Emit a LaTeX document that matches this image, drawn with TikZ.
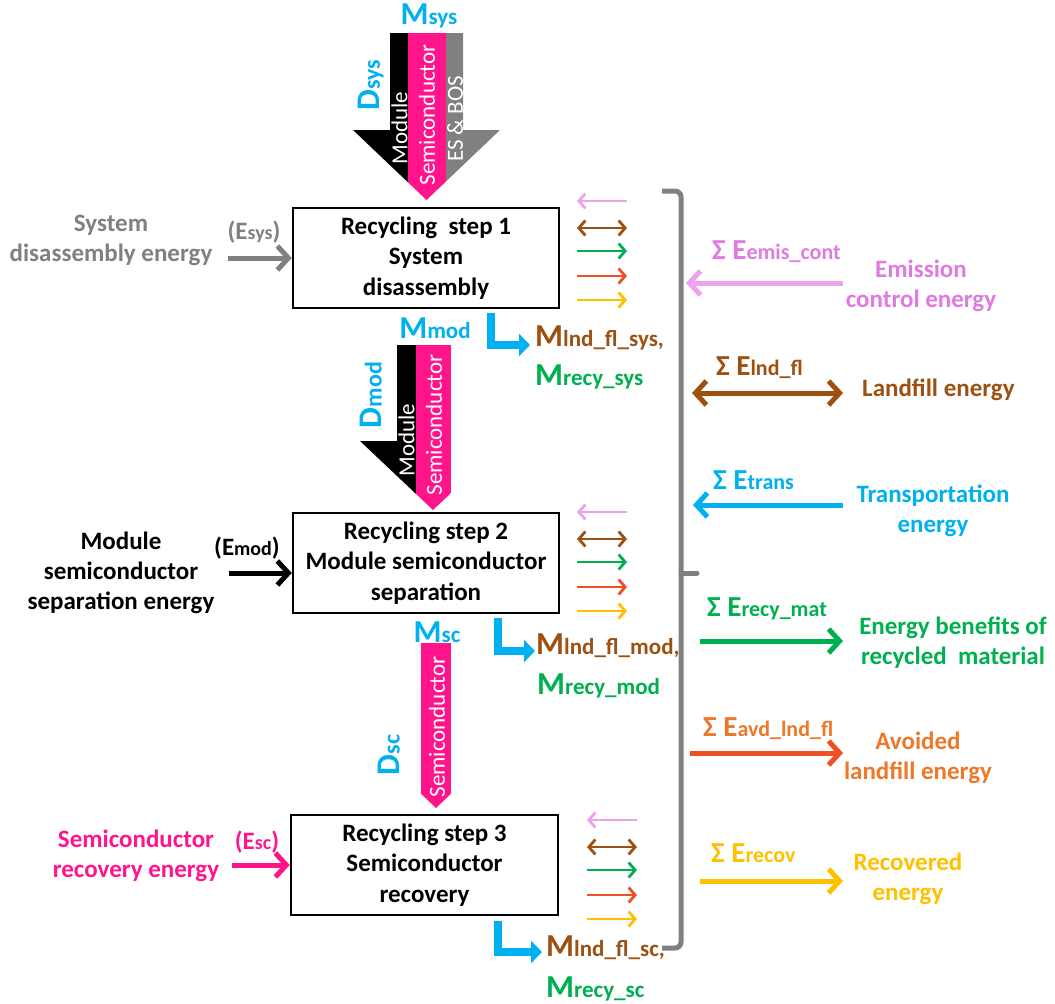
\documentclass[tikz,border=0pt]{standalone}
\usepackage{fontspec}
\setmainfont{Carlito}
\usetikzlibrary{arrows.meta}

\definecolor{sysgray}{RGB}{128,128,128}
\definecolor{semipink}{RGB}{255,20,140}
\definecolor{massblue}{RGB}{0,176,240}
\definecolor{emistext}{RGB}{224,122,224}
\definecolor{emisline}{RGB}{238,162,238}
\definecolor{lndbrown}{RGB}{156,80,18}
\definecolor{recygreen}{RGB}{0,176,80}
\definecolor{avdred}{RGB}{240,78,35}
\definecolor{avdorange}{RGB}{236,120,40}
\definecolor{recovgold}{RGB}{255,192,0}

\newcommand{\Mlab}[1]{{\fontsize{32}{34}\selectfont M}{\fontsize{23}{25}\selectfont #1}}
\newcommand{\Dlab}[1]{{\fontsize{33}{35}\selectfont D}{\fontsize{24}{26}\selectfont #1}}
\newcommand{\Elab}[1]{{\fontsize{29}{31}\selectfont Σ E}{\fontsize{22}{24}\selectfont #1}}
\newcommand{\Ein}[1]{{\fontsize{25}{27}\selectfont (E}{\fontsize{20}{22}\selectfont #1}{\fontsize{25}{27}\selectfont )}}

% five small output arrows next to a recycling step
\def\sidearrows(#1,#2)[#3]{%
	\path (#1,#2) coordinate (#3pa) ++(50,0) coordinate (#3pb);
	\path (#1,#2+27) coordinate (#3ba) ++(50,0) coordinate (#3bb);
	\path (#1,#2+50) coordinate (#3ga) ++(50,0) coordinate (#3gb);
	\path (#1,#2+75) coordinate (#3ra) ++(50,0) coordinate (#3rb);
	\path (#1,#2+99) coordinate (#3ya) ++(50,0) coordinate (#3yb);
	\draw[small, emisline, <-] (#3pa) -- (#3pb);
	\draw[small, lndbrown, <->] (#3ba) -- (#3bb);
	\draw[small, recygreen, ->] (#3ga) -- (#3gb);
	\draw[small, avdred, ->] (#3ra) -- (#3rb);
	\draw[small, recovgold, ->] (#3ya) -- (#3yb);
}

\tikzset{
	stepbox/.style={draw, line width=2.5pt, minimum width=266pt, minimum height=100pt, inner sep=0pt, align=center, font=\fontsize{25}{30.5}\selectfont\bfseries},
	sidetext/.style={align=center, inner sep=0pt, font=\fontsize{25}{30}\selectfont\bfseries},
	striptext/.style={rotate=90, white, inner sep=0pt, font=\fontsize{23}{24}\selectfont},
	small/.style={line width=2.8pt, >={Straight Barb[length=6.5pt,width=15pt]}},
	flow/.style={line width=5pt, >={Straight Barb[length=11pt,width=24pt]}},
	lout/.style={massblue, line width=8pt, -{Triangle[length=11pt,width=22pt]}},
}

\begin{document}
\begin{tikzpicture}[x=1pt, y=-1pt]
		%%%%% START %%%%%
		\useasboundingbox (0,0) rectangle (1055,1004);
		
		% material arrow into step 1
		\begin{scope}
			\clip (390,33) -- (463,33) -- (463,130) -- (500,130) -- (426.5,200) -- (353,130) -- (390,130) -- cycle;
			\fill[black] (350,30) rectangle (408,205);
			\fill[semipink] (408,30) rectangle (446,205);
			\fill[sysgray] (446,30) rectangle (505,205);
		\end{scope}
		\node[striptext] (modA) at (399.5,128) {Module};
		\node[striptext] (semiA) at (427,115) {Semiconductor};
		\node[striptext] (bosA) at (455,119) {ES \& BOS};
		\node[massblue, inner sep=0pt, font=\bfseries] (msys) at (429,16) {\Mlab{sys}};
		\node[massblue, rotate=90, inner sep=0pt, font=\bfseries] (dsys) at (371,85) {\Dlab{sys}};
		
		% material arrow into step 2
		\begin{scope}
			\clip (397,345) -- (470,345) -- (470,441) -- (506,441) -- (433,510) -- (360,441) -- (397,441) -- cycle;
			\fill[black] (355,340) rectangle (416,515);
			\fill[semipink] (416,340) rectangle (451,515);
		\end{scope}
		\node[striptext] (modB) at (406.5,440) {Module};
		\node[striptext] (semiB) at (434,425) {Semiconductor};
		\node[massblue, inner sep=0pt, font=\bfseries] (mmod) at (435,328) {\Mlab{mod}};
		\node[massblue, rotate=90, inner sep=0pt, font=\bfseries] (dmod) at (371,395) {\Dlab{mod}};
		
		% material arrow into step 3
		\begin{scope}
			\clip (399.5,643) -- (472.5,643) -- (472.5,738) -- (509.5,738) -- (436,808) -- (362.5,738) -- (399.5,738) -- cycle;
			\fill[semipink] (421,640) rectangle (451,812);
		\end{scope}
		\node[striptext] (semiC) at (437,727) {Semiconductor};
		\node[massblue, inner sep=0pt, font=\bfseries] (msc) at (437,632) {\Mlab{sc}};
		\node[massblue, rotate=90, inner sep=0pt, font=\bfseries] (dsc) at (389,755) {\Dlab{sc}};
		
		% recycling steps
		\node[stepbox] (step1) at (426,258) {Recycling~ step 1\\System\\disassembly};
		\node[stepbox] (step2) at (426,563) {Recycling step 2\\Module semiconductor\\separation};
		\node[stepbox, minimum width=267pt] (step3) at (424.5,865) {Recycling step 3\\Semiconductor\\recovery};
		
		% energy inputs
		\node[sidetext, sysgray] (insys) at (111,240) {System\\disassembly energy};
		\node[sysgray, inner sep=0pt, font=\bfseries] (esys) at (254,232) {\Ein{sys}};
		\coordinate (sysin) at (228,258);
		\draw[flow, sysgray, ->] (sysin) -- (step1.west |- sysin);
		
		\node[sidetext] (inmod) at (121,573) {Module\\semiconductor\\separation energy};
		\node[inner sep=0pt, font=\bfseries] (emod) at (247,548) {\Ein{mod}};
		\coordinate (modin) at (229,573);
		\draw[flow, ->] (modin) -- (step2.west |- modin);
		
		\node[sidetext, semipink] (insc) at (136,856) {Semiconductor\\recovery energy};
		\node[semipink, inner sep=0pt, font=\bfseries] (esc) at (257,842) {\Ein{sc}};
		\coordinate (scin) at (232,865);
		\draw[flow, semipink, ->] (scin) -- (step3.west |- scin);
		
		% outputs of each step
		\sidearrows(577,201)[s1]
		\sidearrows(577,512)[s2]
		\sidearrows(587,820)[s3]
		
		\coordinate (lsys) at (491,313);
		\node[anchor=west, lndbrown, inner sep=0pt, font=\bfseries] (lndsys) at (535,338) {\Mlab{lnd\_fl\_sys,}};
		\node[anchor=west, recygreen, inner sep=0pt, font=\bfseries] (recysys) at (535,377) {\Mlab{recy\_sys}};
		\draw[lout] (lsys) |- ([xshift=-5pt,yshift=-7pt]lndsys.west);
		
		\coordinate (lmod) at (498,618);
		\node[anchor=west, lndbrown, inner sep=0pt, font=\bfseries] (lndmod) at (536,646) {\Mlab{lnd\_fl\_mod,}};
		\node[anchor=west, recygreen, inner sep=0pt, font=\bfseries] (recymod) at (537,686) {\Mlab{recy\_mod}};
		\draw[lout] (lmod) |- ([xshift=-1pt,yshift=-5pt]lndmod.west);
		
		\coordinate (lsc) at (498,921);
		\node[anchor=west, lndbrown, inner sep=0pt, font=\bfseries] (lndsc) at (546,948) {\Mlab{lnd\_fl\_sc,}};
		\node[anchor=west, recygreen, inner sep=0pt, font=\bfseries] (recysc) at (546,989) {\Mlab{recy\_sc}};
		\draw[lout] (lsc) |- ([xshift=-4pt,yshift=-4pt]lndsc.west);
		
		% bracket
		\draw[sysgray, line width=5pt, rounded corners=6pt] (662,191) -- (681,191) -- (681,948) -- (662,948);
		\coordinate (brace) at (681,573);
		\draw[sysgray, line width=5pt, line cap=round] (brace) -- ++(16,0);
		
		% summed energies
		\node[anchor=west, emistext, inner sep=0pt, font=\bfseries] (eemis) at (712,252) {\Elab{emis\_cont}};
		\node[sidetext, emistext] (temis) at (921,286) {Emission\\control energy};
		\coordinate (emisA) at (686,283);
		\coordinate (emisB) at (843,283);
		\draw[flow, emisline, <-] (emisA) -- (emisB);
		
		\node[anchor=west, lndbrown, inner sep=0pt, font=\bfseries] (elnd) at (716,368) {\Elab{lnd\_fl}};
		\node[sidetext, lndbrown, anchor=west] (tlnd) at (862,390) {Landfill energy};
		\coordinate (lndA) at (692,393);
		\coordinate (lndB) at (843,393);
		\draw[flow, lndbrown, <->] (lndA) -- (lndB);
		
		\node[anchor=west, massblue, inner sep=0pt, font=\bfseries] (etrans) at (713,480) {\Elab{trans}};
		\node[sidetext, massblue] (ttrans) at (933,511) {Transportation\\energy};
		\coordinate (transA) at (693,505);
		\coordinate (transB) at (843,505);
		\draw[flow, massblue, <-] (transA) -- (transB);
		
		\node[anchor=west, recygreen, inner sep=0pt, font=\bfseries] (erecy) at (707,609) {\Elab{recy\_mat}};
		\node[sidetext, recygreen] (trecy) at (953,643) {Energy benefits of\\recycled~ material};
		\coordinate (recyA) at (700,641);
		\coordinate (recyB) at (843,641);
		\draw[flow, recygreen, ->] (recyA) -- (recyB);
		
		\node[anchor=west, avdorange, inner sep=0pt, font=\bfseries] (eavd) at (703,729) {\Elab{avd\_lnd\_fl}};
		\node[sidetext, avdorange] (tavd) at (918,758) {Avoided\\landfill energy};
		\coordinate (avdA) at (690,753);
		\coordinate (avdB) at (843,753);
		\draw[flow, avdred, ->] (avdA) -- (avdB);
		
		\node[anchor=west, recovgold, inner sep=0pt, font=\bfseries] (erecov) at (711,853) {\Elab{recov}};
		\node[sidetext, recovgold] (trecov) at (908,879) {Recovered\\energy};
		\coordinate (recovA) at (700,881);
		\coordinate (recovB) at (843,881);
		\draw[flow, recovgold, ->] (recovA) -- (recovB);
		
		%%%%% END %%%%%
\end{tikzpicture}
\end{document}
